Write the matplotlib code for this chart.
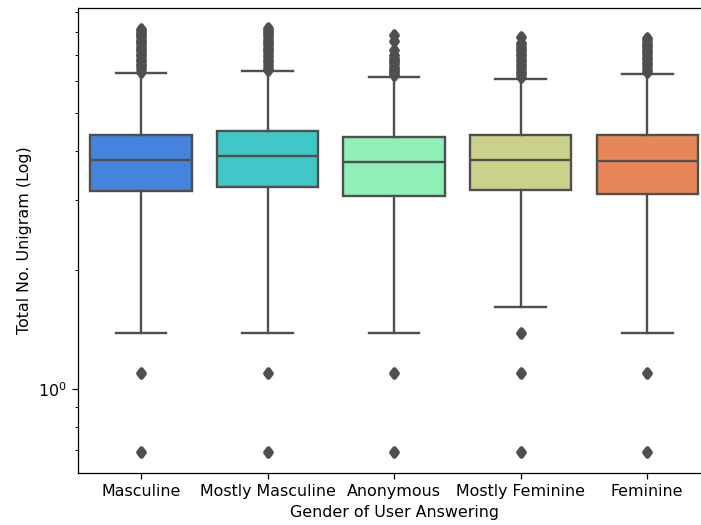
import colorsys

import matplotlib
matplotlib.use("Agg")
import matplotlib.pyplot as plt
from matplotlib.markers import MarkerStyle
from matplotlib.ticker import NullFormatter
import seaborn as sns

# box stats (values are log word counts, shown on a log axis)
genders = ["Masculine", "Mostly Masculine", "Anonymous", "Mostly Feminine", "Feminine"]
q1 = [3.17, 3.24, 3.07, 3.19, 3.12]
med = [3.80, 3.89, 3.76, 3.80, 3.78]
q3 = [4.40, 4.50, 4.35, 4.38, 4.38]
whislo = [1.386, 1.386, 1.386, 1.609, 1.386]
whishi = [6.31, 6.36, 6.17, 6.10, 6.27]

fliers_masc = [0.693, 1.099, 6.35, 6.45, 6.55, 6.65, 6.75, 6.85, 6.95, 7.05, 7.15,
               7.25, 7.35, 7.45, 7.55, 7.65, 7.75, 7.85, 7.95, 8.05, 8.15]
fliers_mostly_masc = [0.693, 1.099, 6.40, 6.50, 6.60, 6.70, 6.80, 6.90, 7.00, 7.10,
                      7.20, 7.30, 7.40, 7.50, 7.60, 7.70, 7.80, 7.90, 8.00, 8.10, 8.20]
fliers_anon = [0.693, 1.099, 6.22, 6.30, 6.38, 6.46, 6.54, 6.62, 6.70, 6.78, 6.88,
               6.98, 7.22, 7.58, 7.88]
fliers_mostly_fem = [0.693, 1.099, 1.386, 6.15, 6.25, 6.35, 6.45, 6.55, 6.65, 6.75,
                     6.85, 6.95, 7.05, 7.15, 7.25, 7.35, 7.45, 7.52, 7.75]
fliers_fem = [0.693, 1.099, 6.32, 6.42, 6.52, 6.62, 6.72, 6.82, 6.92, 7.02, 7.12,
              7.22, 7.32, 7.42, 7.52, 7.62, 7.74]
fliers = [fliers_masc, fliers_mostly_masc, fliers_anon, fliers_mostly_fem, fliers_fem]

# seaborn-style colours: rainbow palette, desaturated, grey lines
pal = sns.color_palette("rainbow", len(genders))
colors = []
for c in pal:
    h, l, s = colorsys.rgb_to_hls(*c)
    colors.append(colorsys.hls_to_rgb(h, l, s * 0.75))
lum = min(colorsys.rgb_to_hls(*c)[1] for c in pal) * 0.6
gray = (lum, lum, lum)

stats = []
for i, g in enumerate(genders):
    stats.append(dict(label=g, q1=q1[i], med=med[i], q3=q3[i],
                      whislo=whislo[i], whishi=whishi[i], fliers=fliers[i]))

dpi = 114
fig = plt.figure(figsize=(701 / dpi, 525 / dpi), dpi=dpi)
ax = fig.add_axes([0.1109, 0.0996, 0.9026, 0.8852])

lw = 1.5
res = ax.bxp(stats, positions=range(len(genders)), widths=0.8, patch_artist=True,
             boxprops=dict(edgecolor=gray, linewidth=lw),
             medianprops=dict(color=gray, linewidth=lw),
             whiskerprops=dict(color=gray, linewidth=lw),
             capprops=dict(color=gray, linewidth=lw),
             flierprops=dict(marker=MarkerStyle("d", joinstyle="round"),
                             markerfacecolor=gray, markeredgecolor=gray,
                             markersize=4, markeredgewidth=3))
for box, c in zip(res["boxes"], colors):
    box.set_facecolor(c)

ax.set_yscale("log")
ax.set_ylim(0.614, 9.2)
ax.set_xlim(-0.5, len(genders) - 0.5)
ax.yaxis.set_minor_formatter(NullFormatter())
ax.set_xlabel("Gender of User Answering")
ax.set_ylabel("Total No. Unigram (Log)")

fig.savefig("out.png", dpi=dpi)
